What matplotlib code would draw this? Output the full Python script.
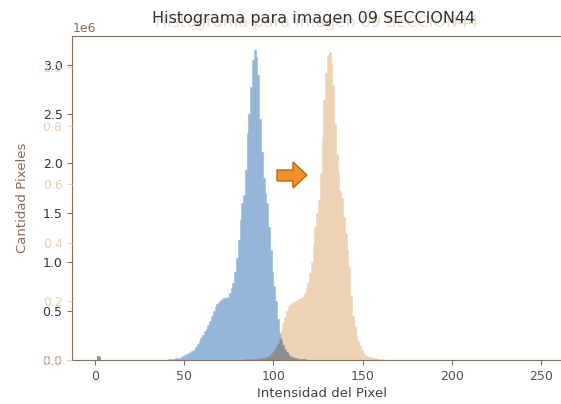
import numpy as np
import matplotlib
matplotlib.use("Agg")
import matplotlib.pyplot as plt
from matplotlib.patches import Polygon

# ---- data (counts in millions of pixels per intensity level) ----
blue_start = 40
blue_counts = [0.005, 0.008, 0.010, 0.012, 0.015, 0.018, 0.020, 0.025, 0.030, 0.040,
               0.050, 0.060, 0.070, 0.080, 0.090, 0.100, 0.130, 0.160, 0.190, 0.220,
               0.250, 0.290, 0.320, 0.360, 0.400, 0.450, 0.500, 0.540, 0.570, 0.590,
               0.610, 0.620, 0.630, 0.635, 0.640, 0.680, 0.730, 0.780, 0.900, 1.040,
               1.220, 1.420, 1.600, 1.680, 1.930, 2.310, 2.500, 2.780, 3.050, 3.150,
               3.080, 2.900, 2.450, 2.120, 1.850, 1.700, 1.600, 1.350, 1.120, 0.900,
               0.750, 0.600, 0.420, 0.270, 0.200, 0.150, 0.110, 0.080, 0.060, 0.040,
               0.030, 0.025, 0.020, 0.015, 0.012, 0.010, 0.008, 0.006, 0.005, 0.004]
orange_start = 82
orange_counts = [0.004, 0.005, 0.006, 0.006, 0.007, 0.008, 0.009, 0.010, 0.012, 0.014,
                 0.016, 0.020, 0.025, 0.030, 0.035, 0.045, 0.060, 0.080, 0.100, 0.130,
                 0.170, 0.220, 0.300, 0.380, 0.440, 0.500, 0.540, 0.560, 0.580, 0.590,
                 0.600, 0.610, 0.620, 0.630, 0.640, 0.680, 0.730, 0.780, 0.880, 1.000,
                 1.180, 1.350, 1.500, 1.630, 1.900, 2.270, 2.640, 2.920, 3.100, 3.130,
                 3.020, 2.800, 2.400, 2.100, 1.900, 1.720, 1.650, 1.450, 1.290, 1.120,
                 0.950, 0.650, 0.450, 0.340, 0.250, 0.190, 0.140, 0.100, 0.070, 0.050,
                 0.040, 0.035, 0.030, 0.025, 0.020, 0.018, 0.015, 0.012, 0.010, 0.008,
                 0.005]
low_bins = [1, 2]
low_counts = [0.04, 0.03]

xticks = [0, 50, 100, 150, 200, 250]
yticks = [0.0, 0.5, 1.0, 1.5, 2.0, 2.5, 3.0]
yticks2 = [0.0, 0.2, 0.4, 0.6, 0.8, 1.0]
title = "Histograma para imagen 09 SECCION44"
xlabel = "Intensidad del Pixel"
ylabel = "Cantidad Pixeles"

# ---- build full histograms ----
edges = np.arange(257)
blue = np.zeros(256)
blue[blue_start:blue_start + len(blue_counts)] = blue_counts
orange = np.zeros(256)
orange[orange_start:orange_start + len(orange_counts)] = orange_counts
blue[low_bins] = low_counts
orange[low_bins] = low_counts
blue *= 1e6
orange *= 1e6
overlap = np.minimum(blue, orange)

W, H = 561, 404
fig = plt.figure(figsize=(W / 100, H / 100), dpi=100)
ax = fig.add_axes([72.3 / W, 1 - 360 / H, 500.4 / W, 324 / H])

for vals, col in [(blue, "#95b6d8"), (orange, "#eed2b6"), (overlap, "#8b8d8f")]:
    ax.stairs(vals, edges, fill=True, facecolor=col, edgecolor=col, linewidth=0.4)

ax.set_xlim(-12.75, 267.75)
ax.set_ylim(0, 3.296e6)
ax.set_xticks(xticks)
ax.set_yticks([v * 1e6 for v in yticks])
ax.ticklabel_format(axis="y", style="sci", scilimits=(0, 0))
ax.yaxis.get_offset_text().set_fontsize(9)
ax.yaxis.get_offset_text().set_color("#3a3a3a")

spine_c = "#8b6e58"
for s in ax.spines.values():
    s.set_color(spine_c)
ax.tick_params(axis="both", colors=spine_c, labelsize=9)
for lab in ax.get_yticklabels():
    lab.set_color("#333333")
for lab in ax.get_xticklabels():
    lab.set_color("#5a4e46")

ax.set_xlabel(xlabel, fontsize=9.5, color="#4a3f38", labelpad=3)
ax.set_ylabel(ylabel, fontsize=9.5, color="#8a6a55", labelpad=10)

# faded second (orange) axis overlaid on the left
ax2 = ax.twinx()
ax2.set_ylim(0, 1.106)
ax2.set_yticks(yticks2)
ax2.yaxis.tick_left()
ax2.tick_params(axis="y", colors="#ead3bf", labelcolor="#e9cdb3", labelsize=9)
for s in ax2.spines.values():
    s.set_visible(False)

# titles (faded copy behind)
cx = 0.5 * (72.3 + 561) / W - 0.005
fig.text(cx + 3 / W, 1 - 22 / H, title, ha="center", va="center",
         fontsize=11.5, color="#efdccb", zorder=0)
fig.text(cx, 1 - 18 / H, title, ha="center", va="center",
         fontsize=11.5, color="#333333", zorder=5)

# orange arrow
pts_px = [(277, 170), (293, 170), (293, 162), (307, 175), (293, 188), (293, 181), (277, 181)]
pts = [(x / W, 1 - y / H) for x, y in pts_px]
fig.patches.append(Polygon(pts, closed=True, transform=fig.transFigure,
                           facecolor="#f0922c", edgecolor="#b8651a", linewidth=1.0, zorder=10))

fig.savefig("out.png", dpi=100)
